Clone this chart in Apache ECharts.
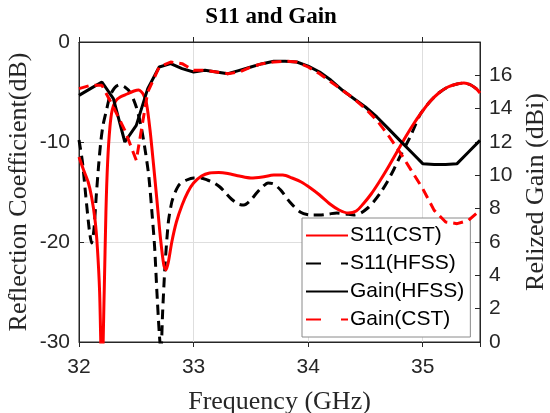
<!DOCTYPE html>
<html>
<head>
<meta charset="utf-8">
<script src="https://cdn.jsdelivr.net/npm/echarts@6/dist/echarts.min.js"></script>
<style>
  html, body { margin: 0; padding: 0; background: #ffffff; }
  #chart { width: 550px; height: 413px; }
</style>
</head>
<body>
<div id="chart"></div>
<script>
// S11 (CST) – frequency (GHz) and reflection coefficient (dB)
const freqS11Cst = [32.00, 32.04, 32.08, 32.11, 32.14, 32.16, 32.18, 32.20, 32.22, 32.235, 32.25, 32.27, 32.29, 32.32, 32.36, 32.42, 32.48, 32.52, 32.56, 32.59, 32.62, 32.65, 32.68, 32.71, 32.74, 32.76, 32.78, 32.81, 32.85, 32.90, 32.95, 33.00, 33.07, 33.14, 33.22, 33.30, 33.40, 33.50, 33.60, 33.70, 33.78, 33.86, 33.94, 34.02, 34.10, 34.19, 34.27, 34.35, 34.42, 34.48, 34.55, 34.62, 34.70, 34.78, 34.85, 34.92, 34.98, 35.06, 35.14, 35.22, 35.30, 35.36, 35.42, 35.47, 35.50];
const s11Cst = [-11.5, -12.8, -14.0, -15.5, -17.8, -20.5, -25.0, -34.0, -25.0, -17.0, -12.0, -8.5, -6.8, -5.9, -5.5, -5.2, -4.9, -4.8, -5.2, -6.2, -8.8, -12.2, -15.8, -19.5, -22.3, -22.8, -22.0, -20.0, -18.0, -16.3, -15.0, -14.1, -13.4, -13.1, -13.05, -13.15, -13.4, -13.6, -13.5, -13.3, -13.3, -13.6, -14.0, -14.6, -15.3, -16.2, -16.8, -17.1, -16.9, -16.2, -15.2, -14.0, -12.5, -10.9, -9.5, -8.2, -7.2, -6.0, -5.1, -4.5, -4.2, -4.1, -4.3, -4.7, -5.1];

// S11 (HFSS)
const freqS11Hfss = [32.00, 32.03, 32.06, 32.09, 32.11, 32.13, 32.15, 32.17, 32.19, 32.21, 32.24, 32.27, 32.31, 32.35, 32.40, 32.45, 32.50, 32.54, 32.58, 32.61, 32.64, 32.66, 32.68, 32.70, 32.715, 32.73, 32.75, 32.78, 32.81, 32.84, 32.88, 32.94, 33.00, 33.06, 33.12, 33.18, 33.23, 33.28, 33.33, 33.39, 33.44, 33.50, 33.55, 33.60, 33.65, 33.70, 33.76, 33.84, 33.93, 34.02, 34.10, 34.18, 34.25, 34.33, 34.40, 34.46, 34.52, 34.57, 34.63, 34.69, 34.75, 34.80, 34.85, 34.89, 34.94, 34.98, 35.06, 35.14, 35.22, 35.30, 35.36, 35.42, 35.47, 35.50];
const s11Hfss = [-9.8, -12.0, -15.5, -18.8, -20.1, -18.8, -15.5, -12.5, -10.0, -8.3, -6.8, -5.4, -4.6, -4.3, -4.5, -5.1, -6.5, -8.3, -11.0, -13.5, -17.5, -20.5, -25.0, -29.0, -31.0, -27.0, -22.5, -18.0, -16.0, -15.0, -14.2, -13.8, -13.6, -13.6, -13.8, -14.1, -14.5, -15.1, -15.7, -16.2, -16.3, -15.8, -15.1, -14.5, -14.1, -14.2, -14.8, -16.0, -17.0, -17.3, -17.3, -17.2, -17.1, -17.2, -17.3, -17.1, -16.6, -16.0, -15.1, -14.0, -12.7, -11.5, -10.4, -9.5, -8.2, -7.2, -6.0, -5.1, -4.5, -4.2, -4.1, -4.3, -4.7, -5.1];

// Realized gain (dBi), sampled every 0.1 GHz
const freqGain = [32.0, 32.1, 32.2, 32.3, 32.4, 32.5, 32.6, 32.7, 32.8, 32.9, 33.0, 33.1, 33.2, 33.3, 33.4, 33.5, 33.6, 33.7, 33.8, 33.9, 34.0, 34.1, 34.2, 34.3, 34.4, 34.5, 34.6, 34.7, 34.8, 34.9, 35.0, 35.1, 35.2, 35.3, 35.4, 35.5];
const gainHfss = [14.8, 15.2, 15.6, 14.6, 12.0, 13.0, 15.2, 16.5, 16.7, 16.4, 16.2, 16.3, 16.2, 16.1, 16.3, 16.5, 16.7, 16.85, 16.85, 16.8, 16.55, 16.2, 15.7, 15.1, 14.6, 14.1, 13.5, 12.8, 12.1, 11.4, 10.7, 10.65, 10.65, 10.7, 11.4, 12.1];
const gainCst = [15.2, 15.4, 15.4, 14.1, 12.7, 10.9, 15.0, 16.5, 16.8, 16.7, 16.3, 16.3, 16.2, 16.1, 16.2, 16.5, 16.7, 16.8, 16.85, 16.8, 16.5, 16.1, 15.6, 15.1, 14.6, 14.0, 13.3, 12.4, 11.4, 10.3, 9.2, 7.9, 7.2, 7.1, 7.3, 7.9];

// Axis ticks
const freqTicks = [32, 33, 34, 35];
const s11Ticks = [-30, -20, -10, 0];
const gainTicks = [0, 2, 4, 6, 8, 10, 12, 14, 16];

const seriesNames = ['S11(CST)', 'S11(HFSS)', 'Gain(HFSS)', 'Gain(CST)'];

const pairs = (xs, ys) => xs.map((x, i) => [x, ys[i]]);

const axisText = { fontFamily: 'Liberation Sans, Arial, sans-serif', fontSize: 21, color: '#262626' };
const nameText = { fontFamily: 'Liberation Serif, Times New Roman, serif', fontSize: 26, color: '#262626' };
const frameLine = { show: true, lineStyle: { color: '#262626', width: 1 } };
const gridLine = { show: true, lineStyle: { color: '#dedede', width: 1 } };
const tickIn = { show: true, inside: true, length: 5, lineStyle: { color: '#262626' } };
const dashed = [10, 6];
const legendDash = [15, 20];

const chart = echarts.init(document.getElementById('chart'), null, { renderer: 'canvas' });

chart.setOption({
  animation: false,
  backgroundColor: '#ffffff',
  title: {
    text: 'S11 and Gain',
    left: 266,
    top: 1,
    textAlign: 'center',
    textStyle: { fontFamily: 'Liberation Serif, Times New Roman, serif', fontWeight: 'bold', fontSize: 23, color: '#000000' }
  },
  grid: {
    left: 79, right: 70, top: 42, bottom: 71,
    outerBoundsMode: 'none',
    containLabel: false,
    show: true, borderColor: '#262626', borderWidth: 1, backgroundColor: '#ffffff'
  },
  legend: {
    data: [
      { name: seriesNames[0] },
      { name: seriesNames[1], lineStyle: { type: legendDash } },
      { name: seriesNames[2] },
      { name: seriesNames[3], lineStyle: { type: legendDash } }
    ],
    orient: 'vertical',
    left: 302,
    top: 218,
    itemWidth: 42,
    itemHeight: 14,
    itemGap: 7,
    padding: [7, 6, 7, 3],
    backgroundColor: '#ffffff',
    borderColor: '#8a8a8a',
    borderWidth: 1,
    borderRadius: 0,
    itemStyle: { opacity: 0 },
    textStyle: { fontFamily: 'Liberation Sans, Arial, sans-serif', fontSize: 21, color: '#000000', padding: [0, 0, 0, -3] }
  },
  xAxis: [{
    type: 'value',
    min: 32, max: 35.5, interval: 1,
    name: 'Frequency (GHz)',
    nameLocation: 'middle',
    nameGap: 47,
    nameMoveOverlap: false,
    nameTextStyle: nameText,
    axisLine: frameLine,
    axisTick: tickIn,
    axisLabel: Object.assign({ margin: 15, showMaxLabel: false,
      formatter: v => (freqTicks.indexOf(v) >= 0 ? String(v) : '') }, axisText),
    splitLine: gridLine
  }, {
    type: 'value',
    position: 'top',
    min: 32, max: 35.5, interval: 1,
    axisLine: frameLine,
    axisTick: tickIn,
    axisLabel: { show: false },
    splitLine: { show: false }
  }],
  yAxis: [{
    type: 'value',
    min: -30, max: 0, interval: 10,
    name: 'Reflection Coefficient(dB)',
    nameLocation: 'middle',
    nameGap: 47,
    nameMoveOverlap: false,
    nameTextStyle: nameText,
    axisLine: frameLine,
    axisTick: tickIn,
    axisLabel: Object.assign({ margin: 9,
      formatter: v => (s11Ticks.indexOf(v) >= 0 ? String(v) : '') }, axisText),
    splitLine: gridLine
  }, {
    type: 'value',
    position: 'right',
    min: 0, max: 18, interval: 2,
    name: 'Relized Gain (dBi)',
    nameLocation: 'middle',
    nameGap: 43,
    nameMoveOverlap: false,
    nameRotate: 90,
    nameTextStyle: nameText,
    axisLine: frameLine,
    axisTick: tickIn,
    axisLabel: Object.assign({ margin: 9, showMaxLabel: false,
      formatter: v => (gainTicks.indexOf(v) >= 0 ? String(v) : '') }, axisText),
    splitLine: { show: false }
  }],
  series: [{
    name: seriesNames[0],
    type: 'line',
    yAxisIndex: 0,
    data: pairs(freqS11Cst, s11Cst),
    showSymbol: false, symbol: 'none',
    smooth: 0.25,
    clip: true,
    lineStyle: { color: '#ff0000', width: 3, type: 'solid' },
    itemStyle: { color: '#ff0000' },
    z: 3
  }, {
    name: seriesNames[1],
    type: 'line',
    yAxisIndex: 0,
    data: pairs(freqS11Hfss, s11Hfss),
    showSymbol: false, symbol: 'none',
    smooth: 0.25,
    clip: true,
    lineStyle: { color: '#000000', width: 3, type: dashed },
    itemStyle: { color: '#000000' },
    z: 2
  }, {
    name: seriesNames[2],
    type: 'line',
    yAxisIndex: 1,
    data: pairs(freqGain, gainHfss),
    showSymbol: false, symbol: 'none',
    clip: true,
    lineStyle: { color: '#000000', width: 3, type: 'solid' },
    itemStyle: { color: '#000000' },
    z: 4
  }, {
    name: seriesNames[3],
    type: 'line',
    yAxisIndex: 1,
    data: pairs(freqGain, gainCst),
    showSymbol: false, symbol: 'none',
    clip: true,
    lineStyle: { color: '#ff0000', width: 3, type: dashed },
    itemStyle: { color: '#ff0000' },
    z: 5
  }]
});
</script>
</body>
</html>
